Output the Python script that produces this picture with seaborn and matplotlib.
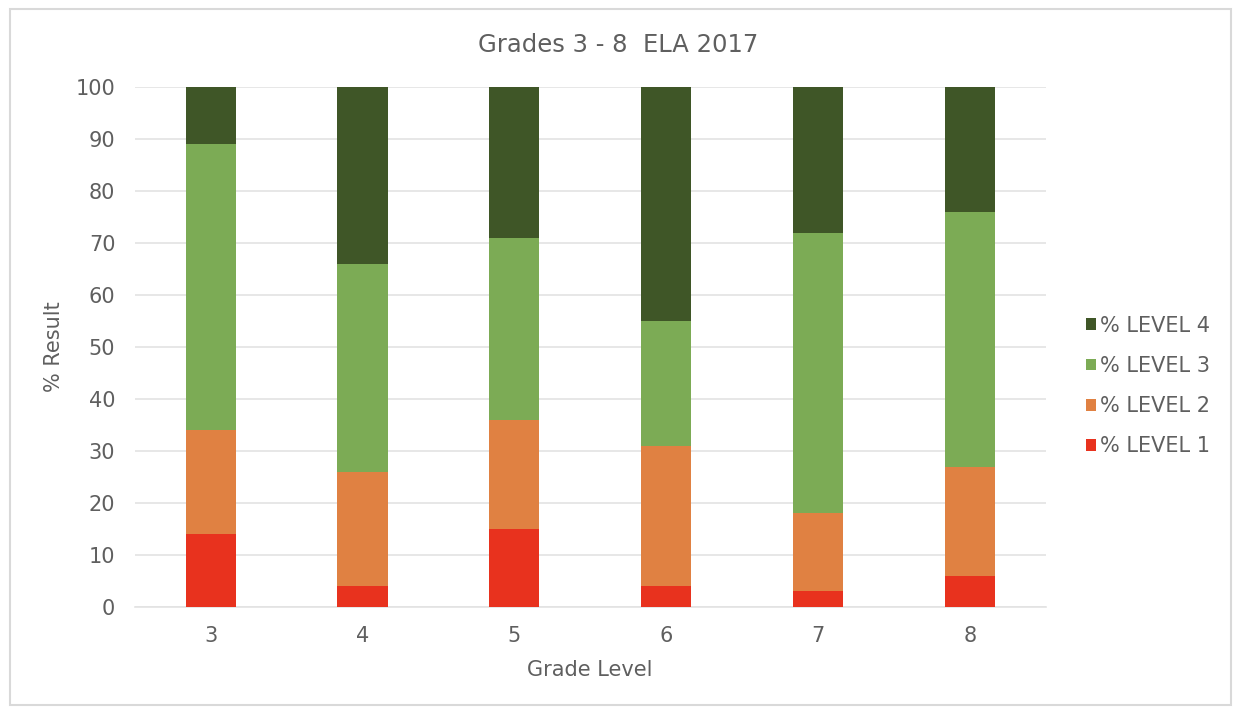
import numpy as np
import pandas as pd
import matplotlib
matplotlib.use("Agg")
import matplotlib.pyplot as plt
from matplotlib.patches import Rectangle
import seaborn as sns

grades = ["3", "4", "5", "6", "7", "8"]
level1 = [14, 4, 15, 4, 3, 6]
level2 = [20, 22, 21, 27, 15, 21]
level3 = [55, 40, 35, 24, 54, 49]
level4 = [11, 34, 29, 45, 28, 24]

series_names = ["% LEVEL 1", "% LEVEL 2", "% LEVEL 3", "% LEVEL 4"]
series_colors = ["#E8321E", "#E08142", "#7CAB55", "#3F5627"]

sns.set_theme(style="white")
plt.rcParams["font.family"] = ["DejaVu Sans"]
text_gray = "#5F5F5F"

fig = plt.figure(figsize=(12.36, 7.1), dpi=100)
ax = fig.add_axes([0.109, 0.145, 0.737, 0.7325])

# stacked bars: draw cumulative totals from the top segment down
stack = np.array([level1, level2, level3, level4], dtype=float)
tops = np.cumsum(stack, axis=0)
for i in range(len(series_names) - 1, -1, -1):
    df = pd.DataFrame({"grade": grades, "value": tops[i]})
    sns.barplot(data=df, x="grade", y="value", color=series_colors[i],
                width=0.33, saturation=1, ax=ax, zorder=3, linewidth=0,
                label=series_names[i])

ax.set_xlim(-0.5, 5.5)
ax.set_ylim(0, 100)
ax.set_yticks(np.arange(0, 101, 10))
ax.grid(axis="y", color="#E3E3E3", linewidth=1.2, zorder=0)
ax.grid(axis="x", visible=False)
for s in ["top", "right", "left"]:
    ax.spines[s].set_visible(False)
ax.spines["bottom"].set_color("#E3E3E3")
ax.spines["bottom"].set_linewidth(1.2)
ax.tick_params(axis="y", length=0, labelsize=15, labelcolor=text_gray, pad=14)
ax.tick_params(axis="x", length=0, labelsize=15, labelcolor=text_gray, pad=14)

ax.set_xlabel("Grade Level", fontsize=15, color=text_gray, labelpad=10)
ax.set_ylabel("% Result", fontsize=15, color=text_gray, labelpad=8)
fig.text(0.5, 0.936, "Grades 3 - 8  ELA 2017", ha="center", va="center",
         fontsize=17.5, color=text_gray)

handles, labels = ax.get_legend_handles_labels()
leg = ax.legend(handles, labels, loc="center left", bbox_to_anchor=(1.035, 0.425),
                frameon=False, fontsize=15, handlelength=0.5, handleheight=0.5,
                handletextpad=0.2, labelspacing=0.97, labelcolor=text_gray,
                borderaxespad=0)

fig.patches.append(Rectangle((0.008, 0.007), 0.988, 0.981, transform=fig.transFigure,
                             fill=False, edgecolor="#D9D9D9", linewidth=1.5))

fig.savefig("out.png", dpi=100, facecolor="white")
